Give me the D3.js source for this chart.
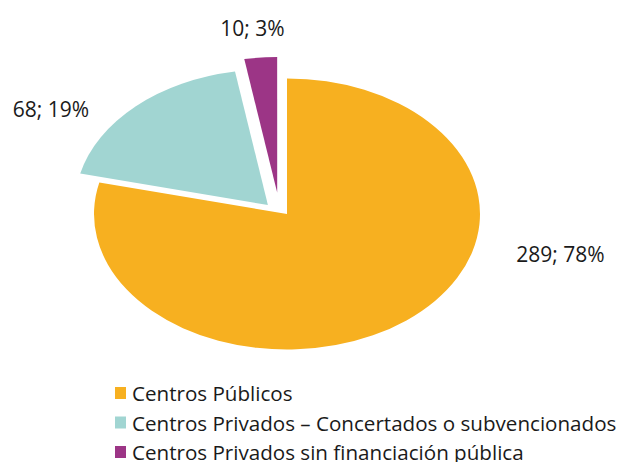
<!DOCTYPE html>
<html>
<head>
<meta charset="utf-8">
<script src="https://cdn.jsdelivr.net/npm/d3@7"></script>
<style>
  html, body { margin: 0; padding: 0; background: #fff; }
  svg { display: block; }
  text { font-family: "Open Sans", sans-serif; fill: #1a1a1a; }
</style>
</head>
<body>
<svg id="chart" width="637" height="462"></svg>
<script>
// ---- data ----
const categories = ["Centros Públicos", "Centros Privados – Concertados o subvencionados", "Centros Privados sin financiación pública"];
const values = [289, 68, 10];
const percents = [78, 19, 3];
const colors = ["#F7B020", "#A1D5D2", "#9C3586"];
const explode = [0, 23, 32];

// ---- layout ----
const W = 637, H = 462;
const cx = 287, cy = 214, rx = 193, ry = 135.5;
const squash = ry / rx;
const explodeShift = -13 * Math.PI / 180;
const labelPos = [[560.5, 262], [51, 117], [252.5, 36]];

const svg = d3.select("#chart");

const pie = d3.pie().sort(null).value(d => d).startAngle(0).endAngle(2 * Math.PI);
const arcs = pie(values);
const arc = d3.arc().innerRadius(0).outerRadius(rx);

const g = svg.append("g").attr("transform", `translate(${cx},${cy}) scale(1,${squash})`);

g.selectAll("path").data(arcs).join("path")
  .attr("d", arc)
  .attr("fill", (d, i) => colors[i])
  .attr("transform", (d, i) => {
    const mid = (d.startAngle + d.endAngle) / 2 + explodeShift;
    const dx = Math.sin(mid) * explode[i];
    const dy = -Math.cos(mid) * explode[i];
    return `translate(${dx},${dy})`;
  });

// data labels
svg.selectAll("text.lbl").data(values).join("text")
  .attr("class", "lbl")
  .attr("x", (d, i) => labelPos[i][0])
  .attr("y", (d, i) => labelPos[i][1])
  .attr("text-anchor", "middle")
  .style("font-size", "21px")
  .text((d, i) => `${d}; ${percents[i]}%`);

// legend
const legend = svg.append("g").attr("transform", "translate(115,387)");
const rowH = 29.5;
const items = legend.selectAll("g").data(categories).join("g")
  .attr("transform", (d, i) => `translate(0,${i * rowH})`);
items.append("rect")
  .attr("width", 11).attr("height", 12)
  .attr("fill", (d, i) => colors[i]);
items.append("text")
  .attr("x", 17).attr("y", 14)
  .style("font-size", "20.6px")
  .text(d => d);
</script>
</body>
</html>
